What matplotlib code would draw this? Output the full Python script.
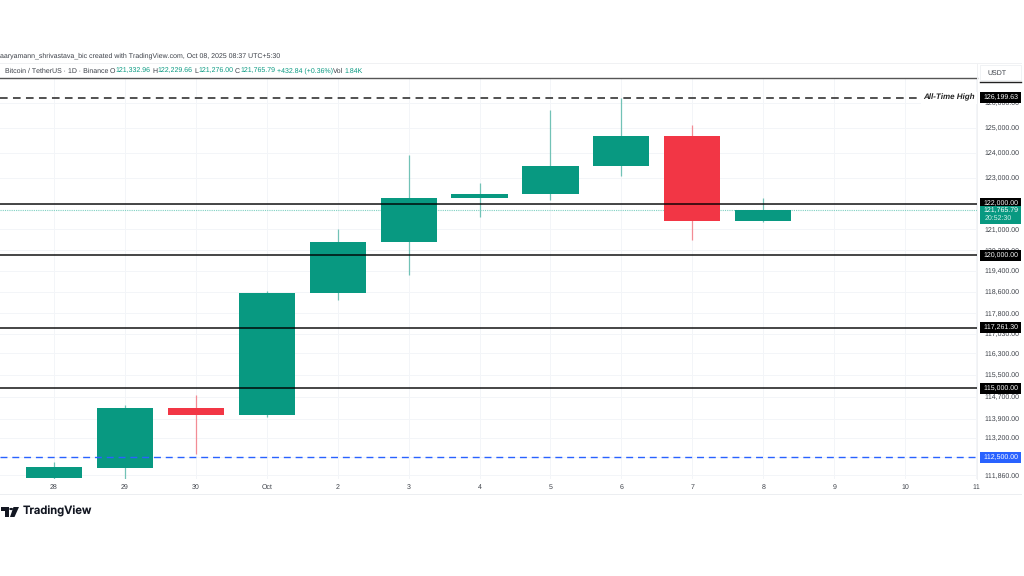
import numpy as np
import matplotlib
matplotlib.use("Agg")
import matplotlib.pyplot as plt
from matplotlib.patches import Polygon, Rectangle

plt.rcParams['font.family'] = ['Liberation Sans', 'DejaVu Sans']
plt.rcParams['text.hinting'] = 'no_hinting'
plt.rcParams['text.hinting_factor'] = 1

# daily candles
days = ['28', '29', '30', 'Oct', '2', '3', '4', '5', '6', '7', '8', '9', '10', '11']
opens = [111746, 112124, 114296, 114040, 118575, 120523, 122207, 122363, 123464, 124652, 121332.96]
highs = [112340, 114383, 114761, 118640, 121001, 123910, 122793, 125705, 126199.63, 125115, 122229.66]
lows = [111700, 111732, 112617, 113946, 118287, 119259, 121490, 122141, 123092, 120589, 121276.00]
closes = [112140, 114296, 114019, 118575, 120523, 122207, 122363, 123464, 124652, 121332.96, 121765.79]

# 122,000 and 112,500 only carry a gridline, their labels are the pills
price_ticks = [126000, 125000, 124000, 123000, 122000, 121000, 120200, 119400, 118600,
               117800, 117030, 116300, 115500, 114700, 113900, 113200, 112500, 111860]
pill_ticks = [122000, 112500]
support_levels = [122000, 120000, 117261.30, 115000]
ath_level = 126199.63
dashed_level = 112500
last_price = 121765.79

GREEN = '#089981'
RED = '#f23645'
BLUE = '#2962ff'
GRID = '#f3f5f8'
TEXT = '#3c4048'
W, H = 1024, 576
X0, DX = 53.7, 70.97

# log price scale: 3129 px per unit of ln(price), ATH sits at y = 97.7 px
def px2price(y):
    return ath_level * np.exp(-(y - 97.7) / 3129)

def fx(x):
    return x / W

def fy(y):
    return 1 - y / H

fig = plt.figure(figsize=(W / 100, H / 100), dpi=100, facecolor='white')
ax = fig.add_axes([0, fy(479), fx(977), (479 - 78) / H])
ax.set_yscale('log')
ax.set_ylim(px2price(479), px2price(78))
ax.set_xlim(-X0 / DX, (977 - X0) / DX)

x = np.arange(len(days))
ax.set_xticks(x)
ax.set_xticklabels(days)
ax.yaxis.tick_right()
ax.set_yticks(price_ticks)
ax.set_yticklabels(['' if p in pill_ticks else f'{p:,.2f}' for p in price_ticks])
ax.minorticks_off()
ax.tick_params(axis='both', length=0, labelsize=4.9, labelcolor=TEXT)
ax.tick_params(axis='y', pad=5.5)
ax.tick_params(axis='x', pad=3.5)
ax.grid(True, color=GRID, lw=0.7)
ax.set_axisbelow(True)
for s in ax.spines.values():
    s.set_visible(False)

# candles
for i in range(len(opens)):
    col = GREEN if closes[i] >= opens[i] else RED
    ax.vlines(i, lows[i], highs[i], color=col, lw=0.9, alpha=0.55, zorder=2)
    lo, hi = sorted((opens[i], closes[i]))
    ax.bar(i, hi - lo, bottom=lo, width=0.79, color=col, lw=0, zorder=3)

# drawn levels
ax.axhline(last_price, color='#7fd0c2', lw=0.8, ls=(0, (1, 1)), zorder=2.5)
for lvl in support_levels:
    ax.axhline(lvl, color='#000000', lw=1.2, alpha=0.85, zorder=4)
ax.axhline(ath_level, color='#222222', lw=1.1, ls=(0, (5, 3.5)), zorder=4)
ax.axhline(dashed_level, color=BLUE, lw=1.0, ls=(0, (5, 3.5)), zorder=4)
ax.text(975 / 977, ath_level, 'All-Time High', transform=ax.get_yaxis_transform(), ha='right', va='center',
        fontsize=5.8, fontstyle='italic', fontweight='bold', color='#222222', zorder=5,
        bbox=dict(fc='white', ec='none', pad=1.5))

# price labels on the right axis
def pill(price, label, bg, h=11):
    ypx = 97.7 + 3129 * np.log(ath_level / price)
    fig.add_artist(Rectangle((fx(980), fy(ypx + h / 2)), 41 / W, h / H, transform=fig.transFigure,
                             fc=bg, ec='none', zorder=6))
    fig.text(fx(1018), fy(ypx), label, ha='right', va='center', fontsize=4.9, color='white', zorder=7)

for lvl in [ath_level] + support_levels:
    pill(lvl, f'{lvl:,.2f}', '#000000')
pill(dashed_level, f'{dashed_level:,.2f}', BLUE)

fig.add_artist(Rectangle((fx(980), fy(224)), 41 / W, 18 / H, transform=fig.transFigure, fc=GREEN, ec='none', zorder=6))
fig.text(fx(1018), fy(210.5), f'{last_price:,.2f}', ha='right', va='center', fontsize=4.9, color='white', zorder=7)
fig.text(fx(1012), fy(218.5), '20:52:30', ha='right', va='center', fontsize=4.7, color='#d5f0ea', zorder=7)

# frame lines
fig.add_artist(plt.Line2D([0, fx(977)], [fy(78.3)] * 2, color='#555555', lw=1))
fig.add_artist(plt.Line2D([fx(980), fx(1021)], [fy(82)] * 2, color='#222222', lw=1))
fig.add_artist(plt.Line2D([0, fx(1021)], [fy(63)] * 2, color='#f0f1f3', lw=0.7))
fig.add_artist(plt.Line2D([0, fx(1021)], [fy(494)] * 2, color='#eceef1', lw=0.7))
fig.add_artist(plt.Line2D([fx(977)] * 2, [fy(63), fy(479)], color='#f0f1f3', lw=0.7))
fig.add_artist(Rectangle((fx(980), fy(80)), 41 / W, 15 / H, transform=fig.transFigure, fc='white', ec='#eef0f3', lw=0.6))
fig.text(fx(987), fy(72.7), 'USDT', ha='left', va='center', fontsize=4.9, color=TEXT)

# header
fig.text(0, fy(55.7), 'aaryamann_shrivastava_bic created with TradingView.com, Oct 08, 2025 08:37 UTC+5:30',
         ha='left', va='center', fontsize=4.9, color=TEXT)
legend_parts = [(5, 'Bitcoin / TetherUS · 1D · Binance', TEXT), (110, 'O', TEXT),
                (115, '121,332.96', GREEN), (152, 'H', TEXT), (157, '122,229.66', GREEN),
                (194, 'L', TEXT), (198, '121,276.00', GREEN), (235, 'C', TEXT),
                (240, '121,765.79', GREEN), (277, '+432.84 (+0.36%)', GREEN), (333, 'Vol', TEXT),
                (344, '1.84K', GREEN)]
for px, txt, col in legend_parts:
    fig.text(fx(px), fy(70.7), txt, ha='left', va='center', fontsize=4.8, color=col)

# logo
logo = [[(1, 507), (9, 507), (9, 517), (5, 517), (5, 511), (1, 511)],
        [(13.5, 507), (19, 507), (14.5, 517), (10, 517)]]
for pts in logo:
    fig.add_artist(Polygon([(fx(a), fy(b)) for a, b in pts], transform=fig.transFigure, fc='#131722', ec='none'))
fig.add_artist(plt.Circle((fx(11.2), fy(509)), 2 / W, transform=fig.transFigure, fc='#131722', ec='none'))
fig.text(fx(23), fy(511.5), 'TradingView', ha='left', va='center', fontsize=8.1, fontweight='semibold',
         color='#131722', family=['Inter', 'DejaVu Sans'])

fig.savefig('out.png', dpi=100)
